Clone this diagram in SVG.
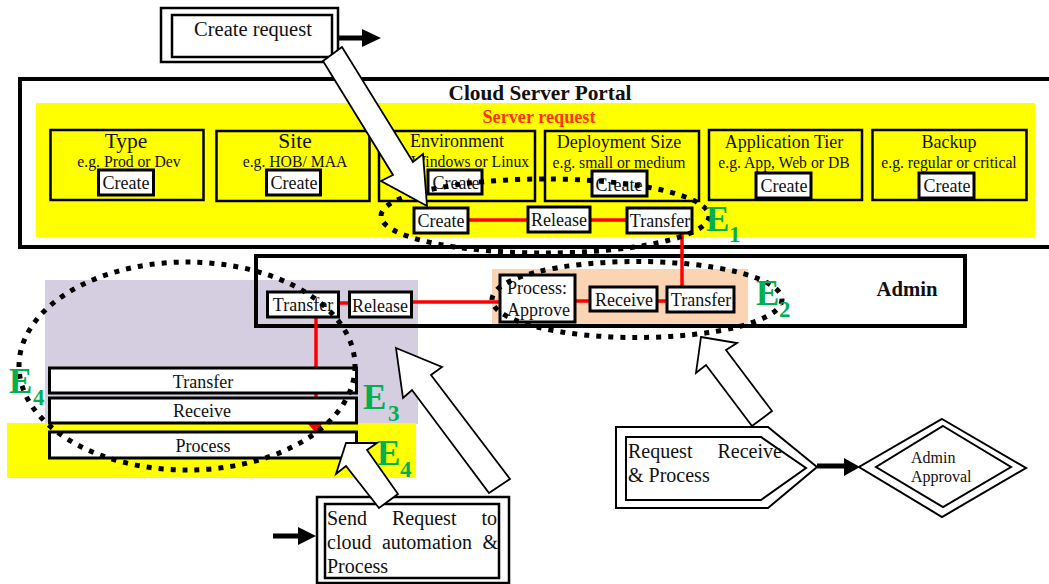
<svg xmlns="http://www.w3.org/2000/svg" width="1049" height="584" viewBox="0 0 1049 584">
<style>
text{font-family:"Liberation Serif","Times New Roman",serif;fill:#111}
.c{text-anchor:middle}
.box{fill:#fff;stroke:#000;stroke-width:3}
.frame{fill:none;stroke:#000;stroke-width:2.5}
.thin{fill:#fff;stroke:#000;stroke-width:2}
.heavy{fill:none;stroke:#000;stroke-width:4}
.red{fill:none;stroke:#f00;stroke-width:3.5}
.big{fill:#fff;stroke:#000;stroke-width:1.8}
.dots{fill:none;stroke:#000;stroke-width:5;stroke-dasharray:5 7}
.h{font-size:18px}.s{font-size:15.7px}.b{font-size:18px}.l{font-size:21.5px}
.t{font-size:20px}
.e{font-weight:bold;fill:#00B050;font-size:35px}
.sub{font-weight:bold;fill:#00B050;font-size:23px}
</style>
<g id="backgrounds">
<rect x="36" y="103" width="999" height="134" fill="#ff0"/>
<rect x="45" y="280" width="373" height="144" fill="#D5CDE0"/>
<rect x="7" y="423" width="409" height="55" fill="#ff0"/>
<rect x="492" y="269" width="256" height="56" fill="#FBD4B4"/>
</g>
<g id="cloud-server-portal">
<rect class="heavy" x="20" y="79" width="1040" height="168"/>
<text class="c" x="540" y="100" font-weight="bold" font-size="21.3">Cloud Server Portal</text>
<text class="c" x="539" y="123" font-weight="bold" font-size="18.2" style="fill:#FF3300">Server request</text>
</g>
<g id="admin">
<rect class="heavy" x="256" y="256" width="709" height="70"/>
<text class="c" x="907" y="296" font-weight="bold" font-size="20.7">Admin</text>
</g>
<g id="connectors">
<path class="red" d="M468 220H626M682 233V287M575 301H667M338 303H349M411 302H500M316 317V432"/>
<path d="M308 424H322L316 433Z" fill="#f00"/>
<path d="M338 38H364M298 536H273M817 466H845" fill="none" stroke="#000" stroke-width="5"/>
<path d="M362 29L381 38L362 47ZM298 527L316 536L298 545ZM844 458L860 467L844 476Z" fill="#000"/>
</g>
<g id="create-request">
<rect class="frame" x="161" y="8" width="177" height="54"/>
<rect class="frame" x="172" y="15" width="160" height="42"/>
<text class="c" x="253" y="36" font-size="20.5px">Create request</text>
</g>
<g id="type"><rect class="frame" x="50.500" y="130" width="153" height="70"/><text class="c l" x="126" y="148">Type</text><text class="c s" x="129" y="167">e.g. Prod or Dev</text></g>
<g id="type-create"><rect class="box" x="98.500" y="170" width="55" height="25"/><text class="c b" x="126" y="189">Create</text></g>
<g id="site"><rect class="frame" x="216.500" y="131" width="153" height="70"/><text class="c l" x="295" y="148">Site</text><text class="c s" x="295" y="167">e.g. HOB/ MAA</text></g>
<g id="site-create"><rect class="box" x="266.500" y="170" width="54" height="25"/><text class="c b" x="294" y="189">Create</text></g>
<g id="environment"><rect class="frame" x="379" y="131" width="156" height="70"/><text class="c h" x="457" y="147">Environment</text><text class="c s" x="457" y="167">e.g. Windows or Linux</text></g>
<g id="environment-create"><rect class="box" x="428" y="170" width="54" height="24"/><text class="c b" x="456" y="189">Create</text></g>
<g id="deployment"><rect class="frame" x="545" y="131" width="154" height="70"/><text class="c h" x="619" y="148">Deployment Size</text><text class="c s" x="619" y="168">e.g. small or medium</text></g>
<g id="deployment-create"><rect class="box" x="592" y="171" width="55" height="25"/><text class="c b" x="619" y="191">Create</text></g>
<g id="application-tier"><rect class="frame" x="709" y="130" width="153" height="70"/><text class="c h" x="784" y="148">Application Tier</text><text class="c s" x="784" y="168">e.g. App, Web or DB</text></g>
<g id="application-create"><rect class="box" x="756" y="173" width="55" height="25"/><text class="c b" x="784" y="192">Create</text></g>
<g id="backup"><rect class="frame" x="872.500" y="130" width="154" height="70"/><text class="c h" x="949" y="148">Backup</text><text class="c s" x="949" y="168">e.g. regular or critical</text></g>
<g id="backup-create"><rect class="box" x="919" y="173" width="55" height="25"/><text class="c b" x="947" y="192">Create</text></g>
<g id="portal-create"><rect class="box" x="414" y="208" width="54" height="25"/><text class="c b" x="441" y="227">Create</text></g>
<g id="portal-release"><rect class="box" x="528" y="207" width="62" height="25"/><text class="c b" x="559" y="226">Release</text></g>
<g id="portal-transfer"><rect class="box" x="627" y="208" width="65" height="25"/><text class="c b" x="660" y="227">Transfer</text></g>
<g id="admin-process"><rect class="box" x="500" y="275" width="75" height="47"/><text class="b" x="507" y="294">Process:</text><text class="b" x="507" y="316">Approve</text></g>
<g id="admin-receive"><rect class="box" x="590" y="287" width="67" height="24"/><text class="c b" x="624" y="306">Receive</text></g>
<g id="admin-transfer"><rect class="box" x="667" y="287" width="67" height="25"/><text class="c b" x="701" y="306">Transfer</text></g>
<g id="left-transfer"><rect class="box" x="267.500" y="292" width="71" height="25"/><text class="c b" x="303" y="311">Transfer</text></g>
<g id="left-release"><rect class="box" x="349.500" y="292" width="62" height="25"/><text class="c b" x="380" y="312">Release</text></g>
<g id="bar-transfer"><rect class="box" x="49.500" y="368" width="307" height="25"/><text class="c b" x="203" y="388">Transfer</text></g>
<g id="bar-receive"><rect class="box" x="49.500" y="398" width="307" height="25"/><text class="c b" x="202" y="417">Receive</text></g>
<g id="bar-process"><rect class="box" x="49.500" y="432" width="307" height="26"/><text class="c b" x="203" y="452">Process</text></g>
<g id="request-receive">
<path class="thin" d="M616 427H768L817 467L768 508H616Z"/>
<path class="thin" d="M626 437H761L806 468L761 500H626Z"/>
<text class="t" x="628" y="458" word-spacing="20px">Request Receive</text>
<text class="t" x="628" y="482">&amp; Process</text>
</g>
<g id="admin-approval">
<path class="thin" d="M942 419L1026 468L942 517L859 467Z"/>
<path class="thin" d="M943 426L1011 467L943 507L876 467Z"/>
<text font-size="16px" x="911" y="463">Admin</text>
<text font-size="16px" x="911" y="482">Approval</text>
</g>
<g id="send-request">
<rect class="frame" x="317" y="497" width="192" height="86" stroke-width="2"/>
<rect class="frame" x="325" y="504" width="174" height="74"/>
<text class="t" x="327" y="525" word-spacing="20px">Send Request to</text>
<text class="t" x="327" y="549" word-spacing="5.5px">cloud automation &amp;</text>
<text class="t" x="327" y="573">Process</text>
</g>
<g id="regions">
<ellipse class="dots" cx="545" cy="216" rx="164" ry="37"/>
<ellipse class="dots" cx="637" cy="299.500" rx="145" ry="38"/>
<ellipse class="dots" cx="187" cy="366" rx="168" ry="104"/>
</g>
<g id="block-arrows">
<path class="big" d="M342 47L323 61L393 175L381 181L427 206L423 154L413 162Z"/>
<path class="big" d="M396 348L442 367L431 375L510 479L489 493L412 390L403 398Z"/>
<path class="big" d="M346 443H377L367 450L398 494L379 508L346 466L336 474Z"/>
<path class="big" d="M701 337L737 343L726 350L772 411L752 426L706 365L696 373Z"/>
</g>
<g id="labels">
<text class="e" x="706" y="231">E</text><text class="sub" x="729" y="242">1</text>
<text class="e" x="756" y="305">E</text><text class="sub" x="779" y="317">2</text>
<text class="e" x="363" y="409">E</text><text class="sub" x="388" y="421">3</text>
<text class="e" x="377" y="465">E</text><text class="sub" x="400" y="477">4</text>
<text class="e" x="9" y="393">E</text><text class="sub" x="33" y="405">4</text>
</g>
</svg>
